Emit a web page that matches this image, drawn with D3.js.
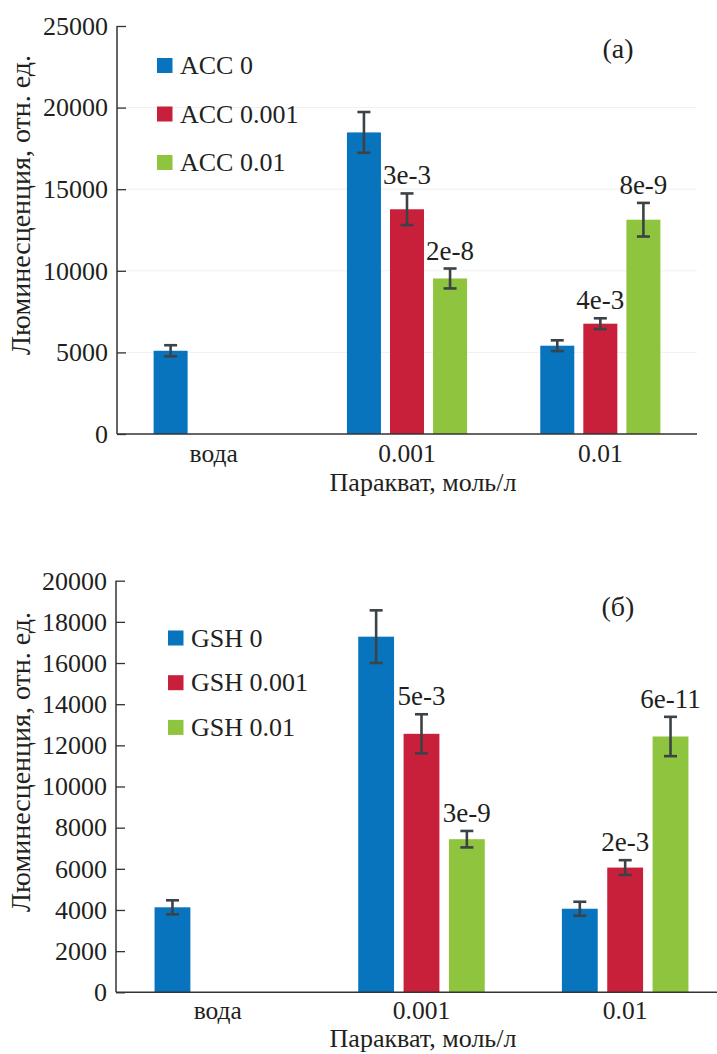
<!DOCTYPE html>
<html>
<head>
<meta charset="utf-8">
<script src="https://cdn.jsdelivr.net/npm/d3@7"></script>
<style>
	body { margin: 0; background: #fff; }
	svg text { font-family: "Liberation Serif", "Times New Roman", serif; fill: #231f20; }
</style>
</head>
<body>
<svg id="chart" width="717" height="1054"></svg>
<script>
// categories on x
var categories = ["вода", "0.001", "0.01"];

// panel (a): ACC
var accSeries = ["ACC 0", "ACC 0.001", "ACC 0.01"];
var accValues = [
	[5100, 18480, 5410],
	[0, 13770, 6760],
	[0, 9530, 13130]
];
var accErrors = [
	[340, 1250, 330],
	[0, 970, 330],
	[0, 610, 1030]
];
var accLabels = [
	["", "", ""],
	["", "3e-3", "4e-3"],
	["", "2e-8", "8e-9"]
];
var accTicks = [0, 5000, 10000, 15000, 20000, 25000];

// panel (б): GSH
var gshSeries = ["GSH 0", "GSH 0.001", "GSH 0.01"];
var gshValues = [
	[4130, 17280, 4060],
	[0, 12560, 6060],
	[0, 7440, 12430]
];
var gshErrors = [
	[340, 1280, 340],
	[0, 950, 360],
	[0, 400, 955]
];
var gshLabels = [
	["", "", ""],
	["", "5e-3", "2e-3"],
	["", "3e-9", "6e-11"]
];
var gshTicks = [0, 2000, 4000, 6000, 8000, 10000, 12000, 14000, 16000, 18000, 20000];

var colors = ["#0874be", "#c81f3a", "#8fc43f"];

function drawPanel(svg, p) {
	var g = svg.append("g");

	var x0 = d3.scaleBand().domain(categories).range([p.left, p.right]);
	var x1 = d3.scaleBand().domain(p.series.map((s, i) => i))
		.range([0, x0.bandwidth()]).paddingInner(0.21).paddingOuter(0.85);
	var y = d3.scaleLinear().domain([0, p.ymax]).range([p.bottom, p.top]);

	// faint grid
	if (p.grid) {
		g.selectAll("line.grid")
			.data(p.ticks.filter(t => t > 0 && t < p.ymax)).enter()
			.append("line").attr("class", "grid")
			.attr("x1", p.left).attr("x2", p.right)
			.attr("y1", d => y(d)).attr("y2", d => y(d))
			.attr("stroke", "#f0f0f0").attr("stroke-width", 1);
	}

	// flat list of bars
	var bars = [];
	p.series.forEach((s, si) => {
		categories.forEach((c, ci) => {
			bars.push({
				si: si, cat: c,
				v: p.values[si][ci],
				e: p.errors[si][ci],
				label: p.labels[si][ci]
			});
		});
	});
	bars = bars.filter(d => d.v > 0);

	var cx = d => x0(d.cat) + x1(d.si) + x1.bandwidth() / 2;

	g.selectAll("rect.bar")
		.data(bars).enter()
		.append("rect").attr("class", "bar")
		.attr("x", d => x0(d.cat) + x1(d.si))
		.attr("width", x1.bandwidth())
		.attr("y", d => y(d.v))
		.attr("height", d => y(0) - y(d.v))
		.attr("fill", d => colors[d.si]);

	// error bars
	var err = g.selectAll("g.err")
		.data(bars).enter()
		.append("g").attr("class", "err")
		.attr("stroke", "#3c4246").attr("stroke-width", 2.6);
	err.append("line")
		.attr("x1", cx).attr("x2", cx)
		.attr("y1", d => y(d.v + d.e)).attr("y2", d => y(d.v - d.e));
	err.append("line")
		.attr("x1", d => cx(d) - 6.5).attr("x2", d => cx(d) + 6.5)
		.attr("y1", d => y(d.v + d.e)).attr("y2", d => y(d.v + d.e));
	err.append("line")
		.attr("x1", d => cx(d) - 6.5).attr("x2", d => cx(d) + 6.5)
		.attr("y1", d => y(d.v - d.e)).attr("y2", d => y(d.v - d.e));

	// p-value labels
	g.selectAll("text.pval")
		.data(bars.filter(d => d.label)).enter()
		.append("text").attr("class", "pval")
		.attr("x", cx)
		.attr("y", d => y(d.v + d.e) - 9)
		.attr("text-anchor", "middle")
		.attr("font-size", 27)
		.text(d => d.label);

	// y axis
	var yAxis = d3.axisLeft(y).tickValues(p.ticks).tickSize(-9).tickPadding(9)
		.tickFormat(d3.format("d"));
	var ya = g.append("g")
		.attr("transform", "translate(" + p.left + ",0)")
		.call(yAxis);
	ya.select(".domain").attr("stroke", "#333").attr("stroke-width", 1.5)
		.attr("d", "M" + 0 + "," + p.bottom + "V" + y(p.ymax));
	ya.selectAll(".tick line").attr("stroke", "#333").attr("stroke-width", 1.3);
	ya.selectAll(".tick text").attr("font-size", 26)
		.attr("font-family", "Liberation Serif").attr("fill", "#231f20");

	// x axis line and labels
	g.append("line")
		.attr("x1", p.left).attr("x2", p.right)
		.attr("y1", y(0)).attr("y2", y(0))
		.attr("stroke", "#333").attr("stroke-width", 1.5);
	g.selectAll("text.cat")
		.data(categories).enter()
		.append("text").attr("class", "cat")
		.attr("x", d => x0(d) + x0.bandwidth() / 2)
		.attr("y", p.catY)
		.attr("text-anchor", "middle")
		.attr("font-size", 25.5)
		.text(d => d);

	g.append("text")
		.attr("x", p.xTitleX).attr("y", p.xTitleY)
		.attr("text-anchor", "middle")
		.attr("font-size", 26)
		.text("Паракват, моль/л");

	g.append("text")
		.attr("transform", "translate(" + 30 + "," + p.yTitleY + ")rotate(-90)")
		.attr("text-anchor", "middle")
		.attr("font-size", 28)
		.text("Люминесценция, отн. ед.");

	// legend
	var leg = g.selectAll("g.legend")
		.data(p.series).enter()
		.append("g").attr("class", "legend")
		.attr("transform", (d, i) => "translate(" + p.legX + "," + (p.legY + i * p.legStep) + ")");
	leg.append("rect")
		.attr("x", 0).attr("y", -7.5)
		.attr("width", 15.5).attr("height", 15)
		.attr("fill", (d, i) => colors[i]);
	leg.append("text")
		.attr("x", 23).attr("y", 8.5)
		.attr("font-size", 26)
		.text(d => d);

	// panel letter
	g.append("text")
		.attr("x", p.tagX).attr("y", p.tagY)
		.attr("text-anchor", "middle")
		.attr("font-size", 28)
		.text(p.tag);
}

var svg = d3.select("#chart");

drawPanel(svg, {
	series: accSeries, values: accValues, errors: accErrors, labels: accLabels,
	ticks: accTicks, ymax: 25000, grid: true,
	left: 117, right: 697, top: 26, bottom: 434,
	catY: 462, xTitleX: 423, xTitleY: 491, yTitleY: 205,
	legX: 157, legY: 65.5, legStep: 48.5,
	tag: "(a)", tagX: 618, tagY: 58
});

drawPanel(svg, {
	series: gshSeries, values: gshValues, errors: gshErrors, labels: gshLabels,
	ticks: gshTicks, ymax: 20000, grid: false,
	left: 116, right: 727, top: 580.7, bottom: 992.3,
	catY: 1019, xTitleX: 423, xTitleY: 1047, yTitleY: 762,
	legX: 168, legY: 638, legStep: 44.7,
	tag: "(б)", tagX: 618, tagY: 616
});
</script>
</body>
</html>
